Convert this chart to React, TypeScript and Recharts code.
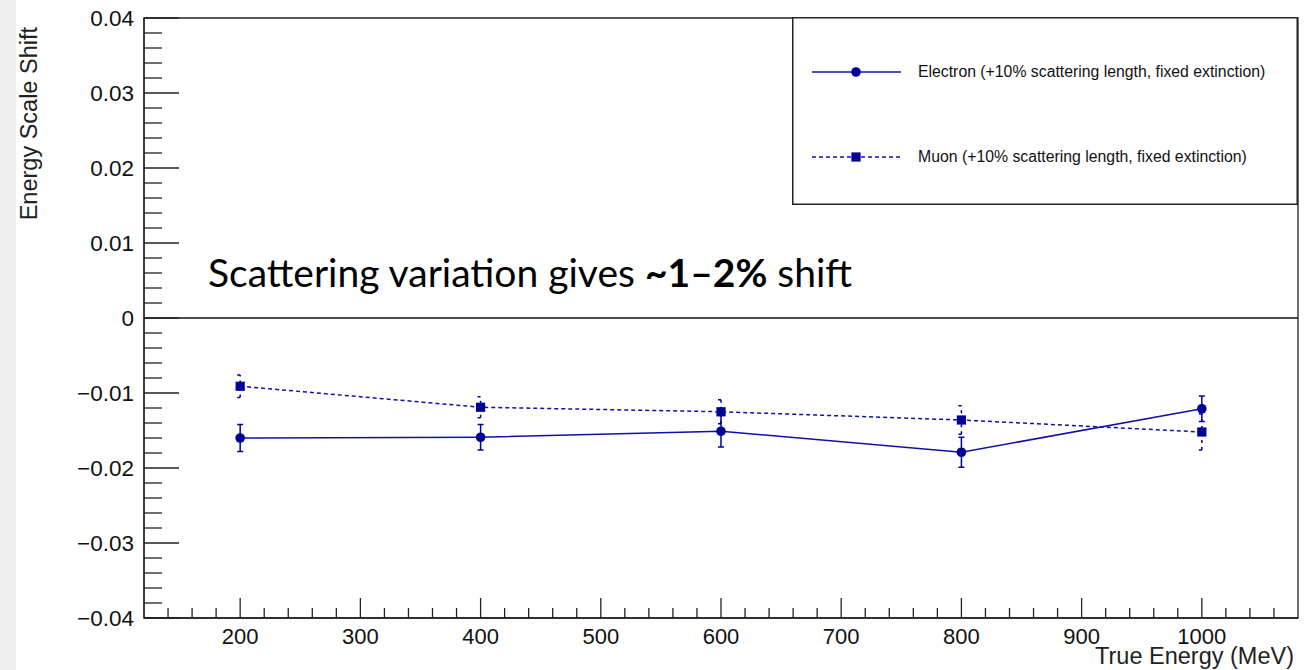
import React from 'react';
import {
  ComposedChart,
  Line,
  XAxis,
  YAxis,
  ErrorBar,
  ReferenceLine,
  ReferenceArea,
  Legend,
  Label,
} from 'recharts';

// ---- data ----
const energies = [200, 400, 600, 800, 1000];
const electronShift = [-0.016, -0.0159, -0.0151, -0.0179, -0.0121];
const electronErr = [0.0018, 0.0017, 0.0021, 0.002, 0.0017];
const muonShift = [-0.0091, -0.0119, -0.0125, -0.0136, -0.0152];
const muonErr = [0.0015, 0.0014, 0.0016, 0.0019, 0.0024];

const electronName = 'Electron (+10% scattering length, fixed extinction)';
const muonName = 'Muon (+10% scattering length, fixed extinction)';

const xMajorTicks = [200, 300, 400, 500, 600, 700, 800, 900, 1000];
const xTickLabels = ['200', '300', '400', '500', '600', '700', '800', '900', '1000'];
const yMajorTicks = [-0.04, -0.03, -0.02, -0.01, 0, 0.01, 0.02, 0.03, 0.04];
const yTickLabels = ['\u22120.04', '\u22120.03', '\u22120.02', '\u22120.01', '0', '0.01', '0.02', '0.03', '0.04'];

const xDomain = [120, 1080];
const yDomain = [-0.04, 0.04];

// minor + major tick positions (ROOT style: 5 subdivisions)
const xTicks: number[] = [];
for (let i = 7; i <= 53; i++) xTicks.push(i * 20);
const yTicks: number[] = [];
for (let i = -20; i <= 20; i++) yTicks.push(Math.round(i * 2) / 1000);

const data = energies.map((e, i) => ({
  energy: e,
  electron: electronShift[i],
  electronErr: electronErr[i],
  muon: muonShift[i],
  muonErr: muonErr[i],
}));

const AXIS_COLOR = '#222';
const SERIES_COLOR = '#000099';
const LINE_COLOR = '#1010a8';
const FONT = '"Liberation Sans", Arial, Helvetica, sans-serif';

const XTick = (props: any) => {
  const { x, y, payload } = props;
  const v = payload.value;
  const idx = xMajorTicks.findIndex((t) => Math.abs(t - v) < 1e-6);
  const major = idx >= 0;
  return (
    <g>
      <line x1={x} x2={x} y1={y} y2={y - (major ? 20 : 10)} stroke={AXIS_COLOR} strokeWidth={1.3} />
      {major && (
        <text x={x} y={y + 26} textAnchor="middle" fontSize={22} fontFamily={FONT} fill="#111">
          {xTickLabels[idx]}
        </text>
      )}
    </g>
  );
};

const YTick = (props: any) => {
  const { x, y, payload } = props;
  const v = payload.value;
  const idx = yMajorTicks.findIndex((t) => Math.abs(t - v) < 1e-7);
  const major = idx >= 0;
  return (
    <g>
      <line x1={x} x2={x + (major ? 35 : 18)} y1={y} y2={y} stroke={AXIS_COLOR} strokeWidth={1.3} />
      {major && (
        <text x={x - 10} y={y + 8} textAnchor="end" fontSize={22.5} fontFamily={FONT} fill="#111">
          {yTickLabels[idx]}
        </text>
      )}
    </g>
  );
};

const CircleDot = (props: any) => {
  const { cx, cy, index } = props;
  if (cx == null || cy == null) return <g key={`c-${index}`} />;
  return <circle key={`c-${index}`} cx={cx} cy={cy} r={4.8} fill={SERIES_COLOR} stroke="none" />;
};

const SquareDot = (props: any) => {
  const { cx, cy, index } = props;
  if (cx == null || cy == null) return <g key={`s-${index}`} />;
  return <rect key={`s-${index}`} x={cx - 4.6} y={cy - 4.6} width={9.2} height={9.2} fill={SERIES_COLOR} stroke="none" />;
};

const renderLegend = () => {
  const w = 506;
  const h = 188;
  return (
    <svg width={w} height={h} style={{ display: 'block' }}>
      <rect x={0.75} y={0.75} width={w - 1.5} height={h - 1.5} fill="#fff" stroke={AXIS_COLOR} strokeWidth={1.5} />
      <line x1={20} x2={109} y1={55} y2={55} stroke={LINE_COLOR} strokeWidth={1.5} />
      <circle cx={64} cy={55} r={4.8} fill={SERIES_COLOR} />
      <text x={126} y={60} fontSize={15.8} fontFamily={FONT} fill="#111">
        {electronName}
      </text>
      <line x1={20} x2={109} y1={140} y2={140} stroke={LINE_COLOR} strokeWidth={1.5} strokeDasharray="4 3" />
      <rect x={59.4} y={135.4} width={9.2} height={9.2} fill={SERIES_COLOR} />
      <text x={126} y={145} fontSize={15.8} fontFamily={FONT} fill="#111">
        {muonName}
      </text>
    </svg>
  );
};

const YTitle = (props: any) => {
  const vb = props.viewBox || { x: 0, y: 18 };
  const tx = vb.x + 37;
  const ty = vb.y + 9;
  return (
    <text
      x={tx}
      y={ty}
      transform={`rotate(-90 ${tx} ${ty})`}
      textAnchor="end"
      fontSize={23.5}
      fontFamily={FONT}
      fill="#222"
    >
      Energy Scale Shift
    </text>
  );
};

const XTitle = (props: any) => {
  const vb = props.viewBox || { x: 144, y: 618, width: 1154, height: 52 };
  const tx = vb.x + vb.width - 4;
  const ty = vb.y + vb.height - 6;
  return (
    <text x={tx} y={ty} textAnchor="end" fontSize={23.5} fontFamily={FONT} fill="#222">
      True Energy (MeV)
    </text>
  );
};

export default function App() {
  return (
    <div
      style={{
        position: 'fixed',
        left: 0,
        top: 0,
        width: 1310,
        height: 670,
        background: '#ffffff',
        overflow: 'hidden',
      }}
    >
      <div style={{ position: 'absolute', left: 0, top: 0, width: 16, height: 670, background: '#f0f0f0' }} />
      <ComposedChart
        width={1310}
        height={670}
        data={data}
        margin={{ top: 18, right: 12, bottom: 0, left: 0 }}
      >
        <XAxis
          dataKey="energy"
          type="number"
          domain={xDomain}
          ticks={xTicks}
          interval={0}
          tick={(p: any) => <XTick {...p} />}
          tickLine={false}
          tickSize={0}
          tickMargin={0}
          height={52}
          allowDataOverflow
          axisLine={{ stroke: AXIS_COLOR, strokeWidth: 1.3 }}
        >
          <Label content={(p: any) => <XTitle {...p} />} />
        </XAxis>
        <YAxis
          type="number"
          domain={yDomain}
          ticks={yTicks}
          interval={0}
          tick={(p: any) => <YTick {...p} />}
          tickLine={false}
          tickSize={0}
          tickMargin={0}
          width={144}
          allowDataOverflow
          axisLine={{ stroke: AXIS_COLOR, strokeWidth: 1.3 }}
        >
          <Label content={(p: any) => <YTitle {...p} />} />
        </YAxis>
        <ReferenceArea
          x1={xDomain[0]}
          x2={xDomain[1]}
          y1={yDomain[0]}
          y2={yDomain[1]}
          fill="none"
          fillOpacity={0}
          stroke={AXIS_COLOR}
          strokeWidth={1.3}
          ifOverflow="visible"
        />
        <ReferenceLine y={0} stroke="#111" strokeWidth={1.3} />
        <Line
          dataKey="muon"
          name={muonName}
          stroke={LINE_COLOR}
          strokeWidth={1.5}
          strokeDasharray="4 3"
          dot={(p: any) => <SquareDot {...p} />}
          activeDot={false}
          isAnimationActive={false}
        >
          <ErrorBar dataKey="muonErr" direction="y" width={3} stroke={SERIES_COLOR} strokeWidth={1.5} strokeDasharray="3 4" />
        </Line>
        <Line
          dataKey="electron"
          name={electronName}
          stroke={LINE_COLOR}
          strokeWidth={1.5}
          dot={(p: any) => <CircleDot {...p} />}
          activeDot={false}
          isAnimationActive={false}
        >
          <ErrorBar dataKey="electronErr" direction="y" width={3} stroke={SERIES_COLOR} strokeWidth={1.5} />
        </Line>
        <Legend
          layout="horizontal"
          verticalAlign="middle"
          align="center"
          wrapperStyle={{ position: 'absolute', left: 792, top: 17, width: 506, height: 188 }}
          content={renderLegend}
        />
      </ComposedChart>
      <svg
        width={1310}
        height={670}
        style={{ position: 'absolute', left: 0, top: 0, pointerEvents: 'none' }}
      >
        <text x={208} y={287} fontFamily="Lato, 'Open Sans', sans-serif" fontSize={39} fill="#000" style={{ whiteSpace: 'pre' }}>
          <tspan>Scattering variation gives </tspan>
          <tspan fontWeight="bold">~1–2%</tspan>
          <tspan> shift</tspan>
        </text>
      </svg>
    </div>
  );
}
